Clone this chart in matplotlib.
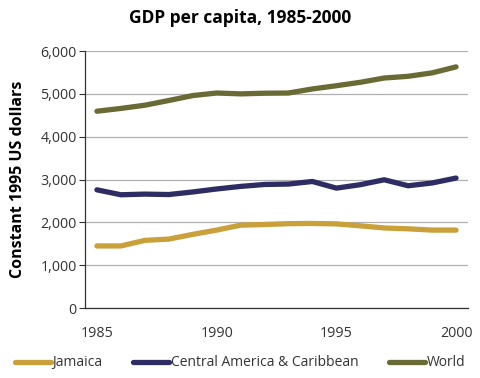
import matplotlib

matplotlib.use("Agg")
import matplotlib.pyplot as plt

years = list(range(1985, 2001))
jamaica = [1450, 1450, 1580, 1610, 1720, 1820, 1935, 1950, 1970, 1975,
           1965, 1920, 1870, 1850, 1820, 1820]
central_america = [2760, 2645, 2660, 2650, 2710, 2780, 2840, 2885, 2895, 2955,
                   2800, 2880, 2995, 2855, 2920, 3035]
world = [4595, 4660, 4735, 4845, 4960, 5020, 5000, 5015, 5020, 5115,
         5190, 5270, 5370, 5410, 5490, 5630]

series = [
    ("Jamaica", jamaica, "#C9A03A"),
    ("Central America & Caribbean", central_america, "#2D2D64"),
    ("World", world, "#6A6A35"),
]

plt.rcParams["font.family"] = ["Open Sans", "DejaVu Sans"]

fig = plt.figure(figsize=(4.8, 3.78), dpi=100)
ax = fig.add_axes((0.177, 0.185, 0.798, 0.68))

for label, vals, color in series:
    ax.plot(years, vals, color=color, lw=3.8, solid_capstyle="round",
            solid_joinstyle="round", label=label)

ax.set_xlim(1984.5, 2000.5)
ax.set_ylim(0, 6000)
ax.set_xticks([1985, 1990, 1995, 2000])
ax.set_yticks(range(0, 6001, 1000))
ax.set_yticklabels([f"{v:,}" for v in range(0, 6001, 1000)])
ax.yaxis.grid(True, color="#b0b0b0", lw=0.9)
ax.set_axisbelow(True)
for side in ("top", "right"):
    ax.spines[side].set_visible(False)
for side in ("left", "bottom"):
    ax.spines[side].set_color("#333333")
    ax.spines[side].set_linewidth(0.9)
ax.tick_params(axis="y", length=4, width=0.8, color="#333333", labelsize=10.3,
               labelcolor="#333333", pad=2)
ax.tick_params(axis="x", length=0, labelsize=10.3, labelcolor="#333333", pad=13)

ax.set_ylabel("Constant 1995 US dollars", fontsize=11.5, fontweight="bold",
              labelpad=10)
fig.suptitle("GDP per capita, 1985-2000", x=0.5, y=0.975, fontsize=12.5,
             fontweight="bold")

fig.legend(loc="center", bbox_to_anchor=(0.5, 0.04), ncol=3, frameon=False,
           fontsize=10, handlelength=2.6, handletextpad=0.1, columnspacing=2.2,
           labelcolor="#333333")

fig.savefig("out.png", dpi=100)
